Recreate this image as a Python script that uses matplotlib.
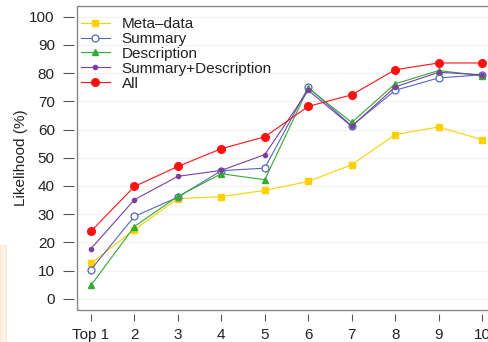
import matplotlib.pyplot as plt
from matplotlib.patches import Rectangle

plt.rcParams['font.family'] = ['Liberation Sans', 'DejaVu Sans']

x_labels = ['Top 1', '2', '3', '4', '5', '6', '7', '8', '9', '10']
positions = list(range(1, 11))

meta = [12.5, 24.5, 35.5, 36.2, 38.4, 41.6, 47.5, 58.2, 60.9, 56.4]
summary = [10.3, 29.2, 36.0, 45.4, 46.3, 75.0, 61.3, 73.9, 78.3, 79.4]
description = [4.7, 25.6, 36.3, 44.3, 42.2, 74.7, 62.5, 76.2, 80.9, 79.1]
summ_desc = [17.7, 35.1, 43.4, 45.5, 51.1, 73.9, 61.1, 75.1, 80.3, 79.4]
all_feat = [23.9, 39.8, 46.9, 53.2, 57.4, 68.2, 72.3, 81.2, 83.6, 83.6]

fig = plt.figure(figsize=(4.88, 3.42), dpi=100)
# axes run past the right edge, the reference is cropped there
ax = fig.add_axes([77 / 488, 1 - 310 / 342, 419 / 488, 304 / 342])

for v in range(0, 101, 10):
    ax.axhline(v, color='#f3f3f3', lw=0.8, zorder=0)

ax.plot(positions, meta, color='#FFD000', lw=0.8, marker='s', ms=4.5,
        label='Meta\u2013data')
ax.plot(positions, summary, color='#5566BB', lw=0.8, marker='o', ms=5,
        mfc='white', mew=0.9, label='Summary')
ax.plot(positions, description, color='#33AA33', lw=0.8, marker='^', ms=5,
        label='Description')
ax.plot(positions, summ_desc, color='#7A3FA0', lw=0.8, marker='o', ms=3,
        label='Summary+Description')
ax.plot(positions, all_feat, color='#FF1111', lw=0.8, marker='o', ms=5.5,
        label='All')

ax.set_xlim(0.68, 10.32)
ax.set_ylim(-4.0, 103.8)
ax.set_xticks(positions)
ax.set_xticklabels(x_labels)
ax.set_yticks(range(0, 101, 10))

# frame drawn separately so the ticks can sit a little off it, like base R
for s in ax.spines.values():
    s.set_visible(False)
ax.spines['left'].set_position(('outward', 2))
ax.spines['bottom'].set_position(('outward', 3))
ax.add_patch(Rectangle((0, 0), 1, 1, transform=ax.transAxes, fill=False,
                       ec='#888888', lw=1.0, clip_on=False, zorder=5))

ax.tick_params(axis='both', direction='out', color='#555555', width=0.8,
               labelsize=11, labelcolor='#222222')
ax.tick_params(axis='y', length=8, pad=6)
ax.tick_params(axis='x', length=5, pad=5)

ax.set_ylabel('Likelihood (%)', fontsize=11, color='#222222', labelpad=1)

leg = ax.legend(loc='upper left', frameon=False, fontsize=11,
                handlelength=1.9, handletextpad=0.8, labelspacing=0.06,
                borderaxespad=0.3, bbox_to_anchor=(-0.017, 0.999))
for t in leg.get_texts():
    t.set_color('#222222')

# faint peach strip on the left edge of the reference image
fig.patches.append(Rectangle((0, 0), 6 / 488, 97 / 342,
                             transform=fig.transFigure, fc='#FFF1E2',
                             ec='#F6E4D0', lw=0.5))

fig.savefig('out.png', dpi=100)
